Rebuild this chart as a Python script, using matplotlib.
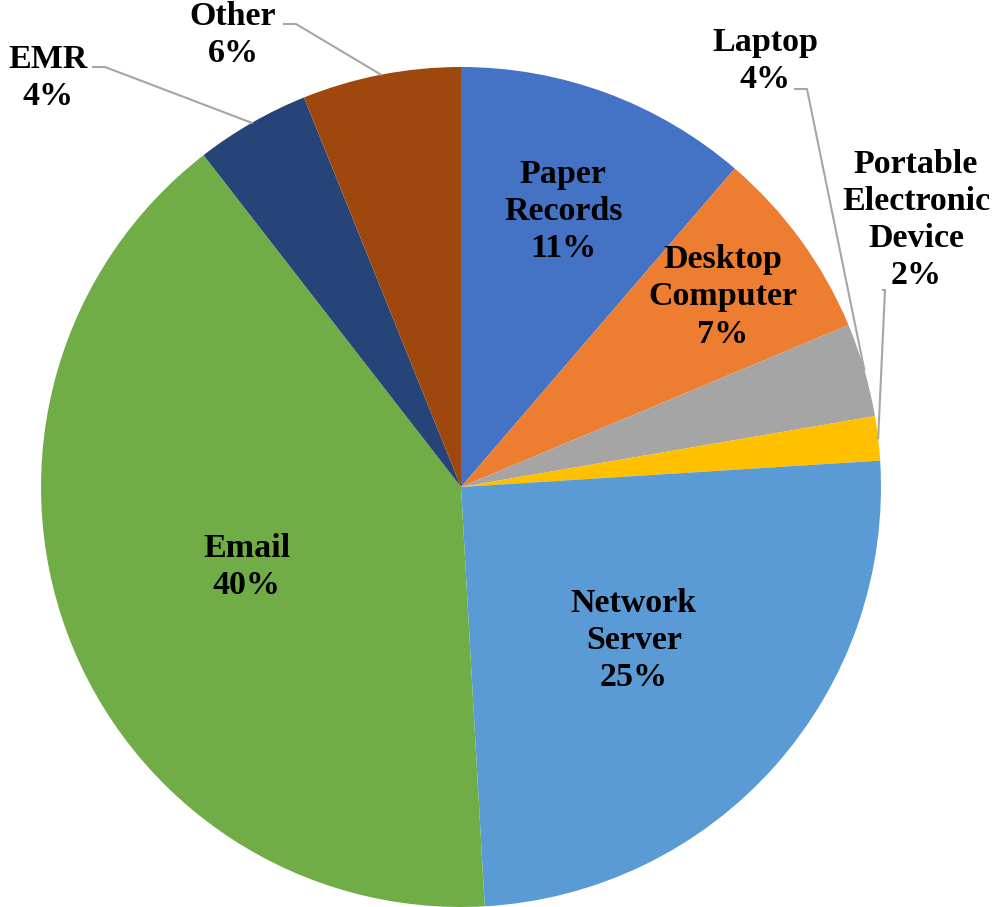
# pie chart of breach locations
import matplotlib.pyplot as plt
import numpy as np

plt.rcParams["font.family"] = ["Liberation Serif", "DejaVu Serif"]

labels = ["Paper\nRecords", "Desktop\nComputer", "Laptop", "Portable\nElectronic\nDevice",
          "Network\nServer", "Email", "EMR", "Other"]
values = [11.3, 7.4, 3.6, 1.7, 25.1, 40.4, 4.4, 6.1]
colors = ["#4472C4", "#ED7D31", "#A5A5A5", "#FFC000", "#5B9BD5", "#70AD47", "#264478", "#9E480E"]

# label placement: inside labels by radius fraction, outside ones by text position + leader stub
inside = {0: 0.70, 1: 0.77, 4: 0.55, 5: 0.545}
outside = {
    2: ((765, 61), [(795, 89), (807, 89)]),
    3: ((916, 220), [(883, 290), (885, 290)]),
    6: ((48, 78), [(93, 67), (105, 67)]),
    7: ((233, 35), [(284, 24), (296, 24)]),
}

W, H = 992, 907
cx, cy, r = 461, H - 487, 420
fs = 24.5
ls = 1.26

fig = plt.figure(figsize=(W / 100, H / 100), dpi=100)
ax = fig.add_axes([0, 0, 1, 1])
wedges, _ = ax.pie(values, colors=colors, startangle=90, counterclock=False,
                   center=(cx, cy), radius=r, wedgeprops=dict(linewidth=0))
ax.set_xlim(0, W)
ax.set_ylim(0, H)
ax.set_aspect("equal")
ax.axis("off")

total = sum(values)
for i, w in enumerate(wedges):
    text = f"{labels[i]}\n{values[i] / total * 100:.0f}%"
    mid = np.deg2rad((w.theta1 + w.theta2) / 2)
    if i in inside:
        f = inside[i]
        ax.text(cx + r * f * np.cos(mid), cy + r * f * np.sin(mid), text,
                ha="center", va="center", fontsize=fs, fontweight="bold",
                linespacing=ls)
    else:
        (tx, ty), stub = outside[i]
        ax.text(tx, H - ty, text, ha="center", va="center", fontsize=fs,
                fontweight="bold", linespacing=ls)
        ex, ey = cx + r * np.cos(mid), cy + r * np.sin(mid)
        xs = [p[0] for p in stub] + [ex]
        ys = [H - p[1] for p in stub] + [ey]
        ax.plot(xs, ys, color="#A6A6A6", lw=1.5)

fig.savefig("out.png", dpi=100)
